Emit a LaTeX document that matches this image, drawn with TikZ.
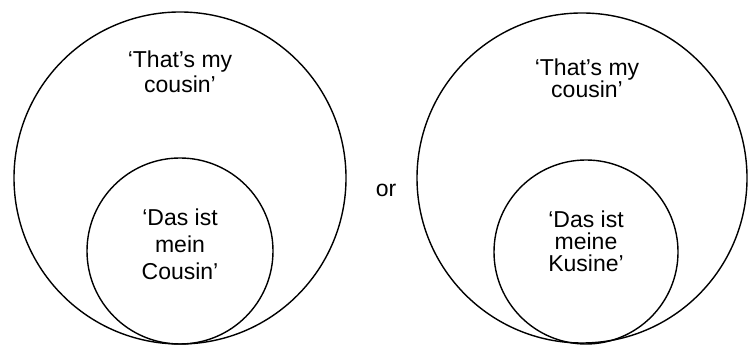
\documentclass[tikz,border=0pt]{standalone}
\usepackage{fontspec}
\setmainfont{Liberation Sans}
\usepackage{tikz}
\usetikzlibrary{positioning}

\begin{document}
\begin{tikzpicture}[x=0.5pt,y=-0.5pt,
    ring/.style={line width=0.7pt},
    label/.style={align=center,inner sep=0pt,font={\fontsize{11.5}{#1}\selectfont}},
    label/.default=12.5]
    \useasboundingbox (0,0) rectangle (748,346);
    % left pair
    \draw[ring] (180,178) circle[radius=166];
    \draw[ring] (180,251) circle[radius=93];
    \node[label=12.5] (enL) at (180,71.5) {`That's my\\cousin'};
    \node[label=13.5] (deL) at (180,244) {`Das ist\\mein\\Cousin'};
    % right pair
    \draw[ring] (582,178) circle[radius=165];
    \draw[ring] (586,252) circle[radius=92];
    \node[label=11] (enR) at (587,78) {`That's my\\cousin'};
    \node[label=11] (deR) at (586,241.5) {`Das ist\\meine\\Kusine'};
    \node[label, anchor=base] (or) at (386,197) {or};
\end{tikzpicture}
\end{document}
